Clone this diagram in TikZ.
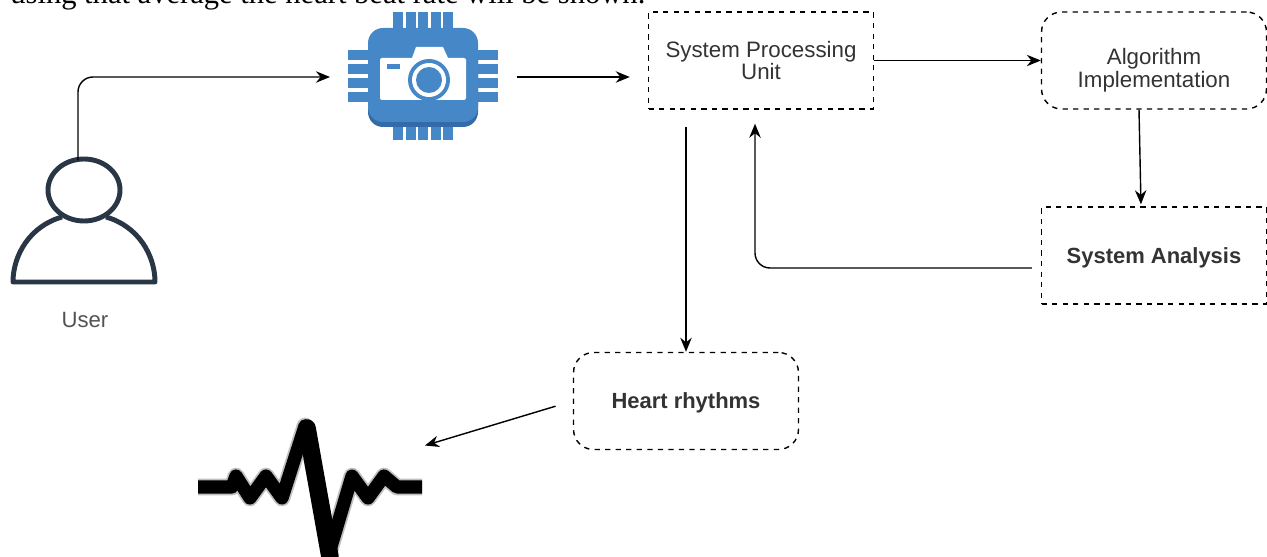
\documentclass[tikz,border=0pt]{standalone}
\usepackage{fontspec}
\setmainfont{Liberation Sans}
\newfontfamily\captionfont{Liberation Serif}
\usetikzlibrary{arrows.meta,positioning}
\definecolor{chipCol}{rgb}{0.27, 0.53, 0.78}
\definecolor{chipDark}{rgb}{0.20, 0.42, 0.66}
\definecolor{userCol}{rgb}{0.16, 0.21, 0.27}
\definecolor{textCol}{rgb}{0.2, 0.2, 0.2}
\tikzset{
  conn/.style={-{Stealth[length=8pt,width=6.5pt]},line width=0.8pt},
  unitbox/.style={draw,dashed,line width=0.8pt,minimum width=4.5cm,minimum height=1.94cm,
    align=center,text=textCol,font=\fontsize{12.7}{13}\selectfont},
  roundbox/.style={unitbox,rounded corners=0.4cm},
  boldtext/.style={font=\fontsize{12.5}{13}\selectfont\bfseries,text depth=0pt},
  iconbox/.style={inner sep=0pt,outer sep=0pt}
}
\begin{document}
\begin{tikzpicture}[x=0.02cm,y=-0.02cm]
  \useasboundingbox (0,0) rectangle (1267,557);
  \node[anchor=base west,inner sep=0pt,font=\captionfont\fontsize{17.4}{18}\selectfont] (caption) at (10,4)
    {using that average the heart beat rate will be shown.};
  % boxes
  \node[unitbox] (unit) at (761,60.5) {System Processing\\Unit};
  \node[roundbox] (algo) at (1154,60.5) {\rule{0pt}{20pt}Algorithm\\Implementation};
  \node[unitbox,boldtext] (analysis) at (1154,255.5) {System Analysis};
  \node[roundbox,boldtext] (heart) at (686,401) {Heart rhythms};
  % icons, only used as places to connect to
  \node[iconbox,minimum width=3.74cm,minimum height=2.6cm] (chip) at (423.5,77) {};
  \node[iconbox,minimum width=2.84cm,minimum height=2.44cm] (user) at (78,221) {};
  \node[iconbox,minimum width=4.56cm,minimum height=2.8cm] (pulse) at (311,487) {};
  \node[text=textCol!85,font=\fontsize{12.6}{14}\selectfont] (userlabel) at (85,320) {User};
  % chip
  \foreach \x in {393,405.5,418,430.5,443} {
    \fill [chipCol] (\x,12) rectangle (\x+10,30);
    \fill [chipCol] (\x,124) rectangle (\x+10,140);
  }
  \foreach \y in {50,64,78,92} {
    \fill [chipCol] (348,\y) rectangle (369,\y+10);
    \fill [chipCol] (477,\y) rectangle (498,\y+10);
  }
  \fill [chipDark, rounded corners=0.3cm] (368,40) rectangle (478,127);
  \fill [chipCol, rounded corners=0.3cm] (368,28) rectangle (478,122);
  \fill [white] (412,58) -- (416,47) -- (443,47) -- (448,58) -- cycle;
  \fill [white, rounded corners=0.04cm] (380,58) rectangle (466,100);
  \fill [chipCol] (387,64) rectangle (400,69);
  \fill [chipCol] (429,80) circle (21);
  \fill [white] (429,80) circle (17);
  \fill [chipCol] (429,80) circle (13);
  % user
  \draw [line width=2.8pt, userCol] (84,190) ellipse (36 and 31);
  \draw [line width=2.8pt, userCol, line join=round]
    (62,217) .. controls (30,226) and (13,255) .. (13,282) -- (155,282)
    .. controls (155,255) and (138,226) .. (106,217);
  % pulse
  \draw [line width=9.5pt, black!25, line join=round]
    (198,487) -- (232,487) -- (236,476) -- (250,498) -- (266,476) -- (282,498)
    -- (305,426) -- (330,550) -- (352,476) -- (368,498) -- (384,476) -- (397,487) -- (422,487);
  \draw [line width=7.5pt, black, line join=round]
    (198,487) -- (232,487) -- (236,476) -- (250,498) -- (266,476) -- (282,498)
    -- (305,426) -- (330,550) -- (352,476) -- (368,498) -- (384,476) -- (397,487) -- (422,487);
  \draw [line width=10pt, black, line cap=round] (307,428) -- (330,557);
  % connectors
  \draw [conn, rounded corners=0.3cm] (user.north) |- (chip.west);
  \draw [conn, shorten >=0.36cm] (chip.east) -- (chip.east -| unit.west);
  \draw [conn] (unit.east) -- (algo.west);
  \draw [conn, shorten >=0.04cm] ([xshift=-0.3cm]algo.south) -- ([xshift=-0.26cm]analysis.north);
  \draw [conn, rounded corners=0.3cm, shorten <=0.18cm, shorten >=0.28cm]
    ([yshift=-0.25cm]analysis.west) -| ([xshift=-0.12cm]unit.south);
  \draw [conn, shorten <=0.34cm] (heart.north |- unit.south) -- (heart.north);
  \draw [conn, shorten <=0.36cm] (heart.west) -- (pulse.20);
\end{tikzpicture}
\end{document}
